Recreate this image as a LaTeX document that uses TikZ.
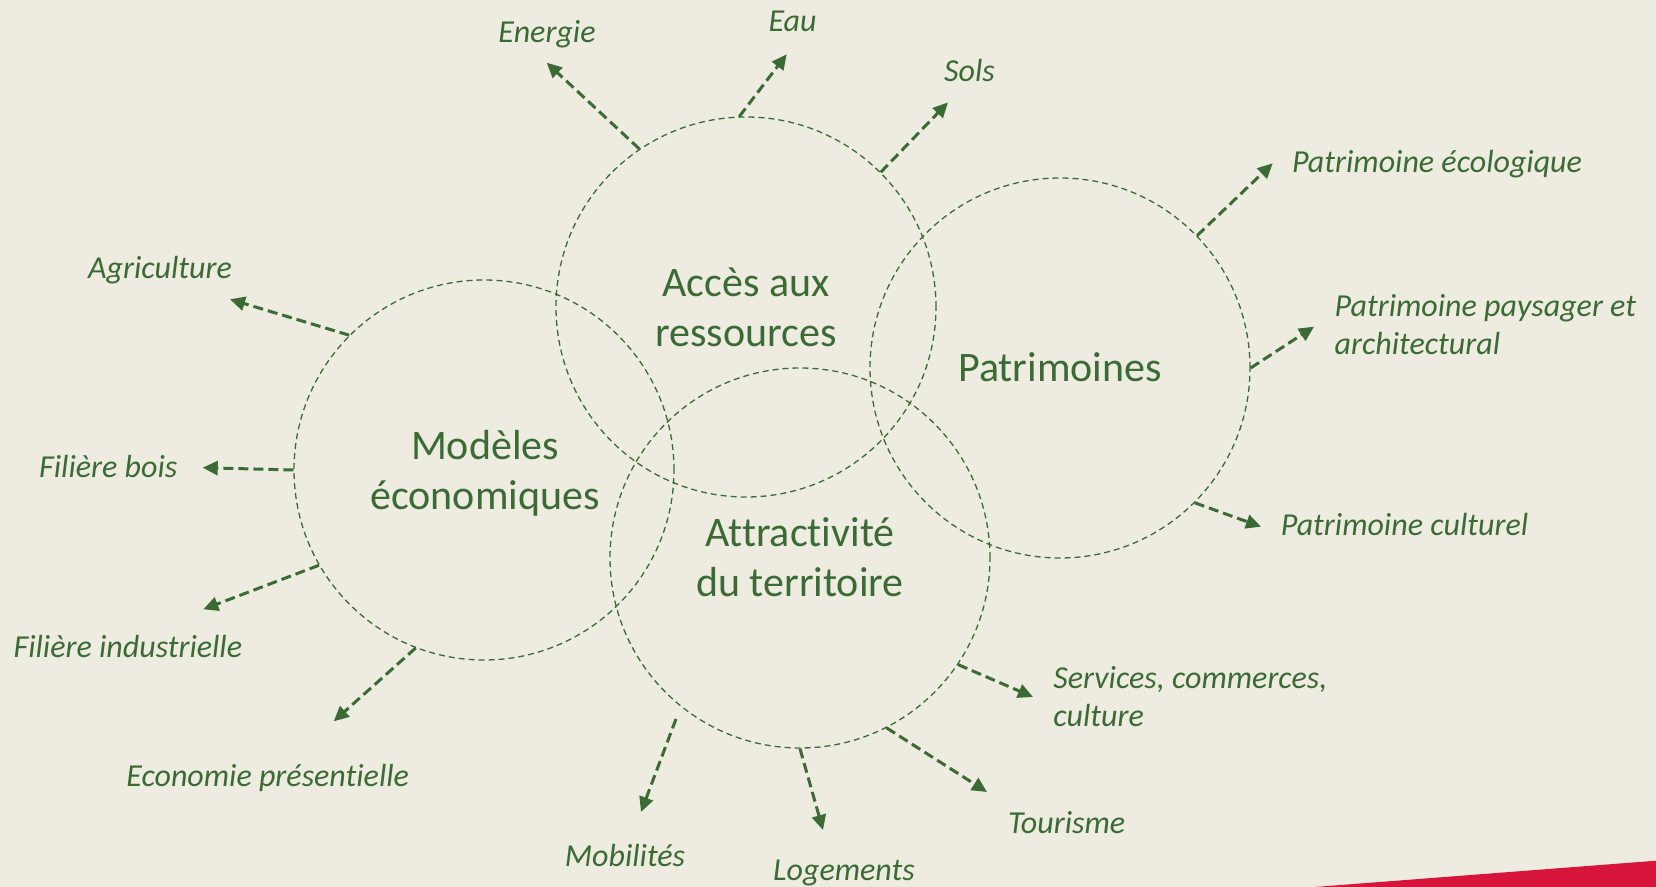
\documentclass[tikz,border=0pt]{standalone}
\usepackage{fontspec}
\setmainfont{Carlito}[Ligatures=NoCommon]
\usetikzlibrary{arrows.meta}
\definecolor{bg}{HTML}{EEEBE0}
\definecolor{grn}{HTML}{3B6B35}
\definecolor{redband}{HTML}{D7153A}
\begin{document}
\begin{tikzpicture}[x=0.5pt,y=-0.5pt,
  circ/.style={circle,draw=grn,line width=0.65pt,dash pattern=on 3pt off 2pt,minimum size=190pt,inner sep=0pt},
  big/.style={text=grn,font=\fontsize{21pt}{25pt}\selectfont,align=center,anchor=base,inner sep=0pt},
  lab/.style={text=grn,font=\fontsize{16pt}{19.3pt}\selectfont\itshape,inner sep=0pt,anchor=base},
  arr/.style={draw=grn,line width=1.5pt,dash pattern=on 5pt off 2.5pt,-{Triangle[length=7.5pt,width=7pt]}}]
% background and bounding box
\fill[bg] (0,0) rectangle (1656,887);
\useasboundingbox (0,0) rectangle (1656,887);
\fill[redband] (1315,887) -- (1656,860.7) -- (1656,887) -- cycle;

% circles
\node[circ] (A) at (746,307) {};
\node[circ] (M) at (484,470) {};
\node[circ] (P) at (1060,368) {};
\node[circ] (T) at (800,558) {};

% arrow tips
\coordinate (tEnergie) at (546.7,62.7);
\coordinate (tEau) at (786.7,54.3);
\coordinate (tSols) at (948,102.4);
\coordinate (tAgri) at (230,299.3);
\coordinate (tBois) at (202.7,467.7);
\coordinate (tInd) at (203.3,609.3);
\coordinate (tEco) at (333.7,721.3);
\coordinate (tPEco) at (1272.7,163.3);
\coordinate (tPPay) at (1314,326.7);
\coordinate (tPCul) at (1261,526.7);
\coordinate (tServ) at (1033,697);
\coordinate (tTour) at (987,792);
\coordinate (tLog) at (823,830);
\coordinate (tMob) at (641,812);
\coordinate (sMob) at (676,719);

% arrows
\draw[arr] (A.124) -- (tEnergie);
\draw[arr] (A.92.7) -- (tEau);
\draw[arr] (A.45.6) -- (tSols);
\draw[arr] (M.135.5) -- (tAgri);
\draw[arr] (M.180) -- (tBois);
\draw[arr] (M.210.7) -- (tInd);
\draw[arr] (M.249.3) -- (tEco);
\draw[arr] (P.44.8) -- (tPEco);
\draw[arr] (P.0) -- (tPPay);
\draw[arr] (P.-45.1) -- (tPCul);
\draw[arr] (T.-34.4) -- (tServ);
\draw[arr] (T.-63) -- (tTour);
\draw[arr] (T.-90) -- (tLog);
\draw[arr] (sMob) -- (tMob);

% main titles (base anchor = baseline of last line)
\node[big] (xA) at (746,346.7) {Accès aux\\ressources};
\node[big] (xM) at (485,510) {Modèles\\économiques};
\node[big] (xT) at (800,596.7) {Attractivité\\du territoire};
\node[big] (xP) at (1060,382) {Patrimoines};

% labels
\node[lab] (lEnergie) at (547,42.7) {Energie};
\node[lab] (lEau) at (792.5,31.7) {Eau};
\node[lab] (lSols) at (969.5,81.5) {Sols};
\node[lab] (lAgri) at (160,279) {Agriculture};
\node[lab] (lBois) at (108.3,477.3) {Filière bois};
\node[lab] (lInd) at (127.9,658) {Filière industrielle};
\node[lab] (lEco) at (267.7,786.7) {Economie présentielle};
\node[lab] (lMob) at (625,866.7) {Mobilités};
\node[lab] (lLog) at (844,880) {Logements};
\node[lab] (lTour) at (1066.6,833) {Tourisme};
\node[lab,anchor=base west,align=left] (lServ) at (1053,726.7) {Services, commerces,\\culture};
\node[lab] (lPCul) at (1404.5,536) {Patrimoine culturel};
\node[lab,anchor=base west,align=left] (lPPay) at (1334.3,355) {Patrimoine paysager et\\architectural};
\node[lab] (lPEco) at (1437,172.7) {Patrimoine écologique};
\end{tikzpicture}
\end{document}
